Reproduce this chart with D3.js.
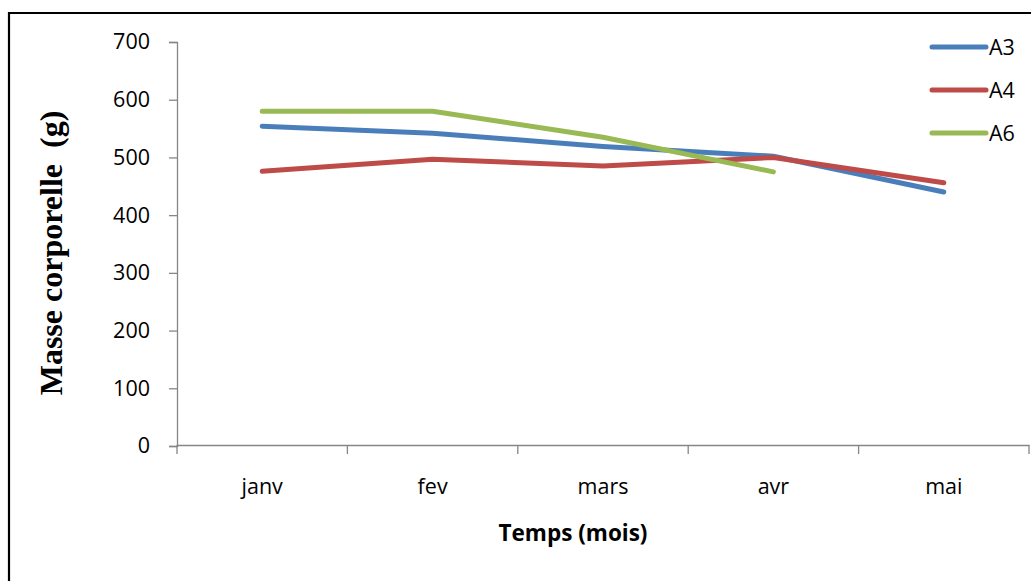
<!DOCTYPE html>
<html>
<head>
<meta charset="utf-8">
<script src="https://cdn.jsdelivr.net/npm/d3@7"></script>
<style>
  body { margin: 0; background: #fff; }
</style>
</head>
<body>
<div class="canvas"></div>
<script>
const months = ['janv', 'fev', 'mars', 'avr', 'mai'];
const a3 = [554, 542, 519, 502, 440];
const a4 = [476, 497, 485, 500, 456];
const a6 = [580, 580, 535, 475];
const yTicks = [0, 100, 200, 300, 400, 500, 600, 700];

const series = [
  { name: 'A3', values: a3, colour: '#4a7ebb' },
  { name: 'A4', values: a4, colour: '#be4b48' },
  { name: 'A6', values: a6, colour: '#98b954' }
];

const width = 1031, height = 581;
const plotLeft = 177, plotRight = 1029, plotTop = 42, plotBottom = 446;

const svg = d3.select('.canvas')
  .append('svg')
  .attr('width', width)
  .attr('height', height);

// frame (only top and left visible in the picture)
svg.append('path')
  .attr('d', `M9,${height} V13 H${width}`)
  .attr('fill', 'none')
  .attr('stroke', '#000')
  .attr('stroke-width', 2.2);

const x = d3.scaleBand().domain(months).range([plotLeft, plotRight]);
const y = d3.scaleLinear().domain([0, 700]).range([plotBottom, plotTop]);

// y axis
const yAxis = svg.append('g')
  .attr('transform', `translate(${plotLeft},0)`)
  .call(d3.axisLeft(y).tickValues(yTicks).tickSize(8).tickPadding(19));
yAxis.select('.domain').attr('stroke', '#868686').attr('stroke-width', 1.3);
yAxis.selectAll('.tick line').attr('stroke', '#868686').attr('stroke-width', 1.3);
yAxis.selectAll('text')
  .attr('font-family', '"Open Sans", sans-serif')
  .attr('font-size', 21.5)
  .attr('fill', '#000');

// x axis
const xAxis = svg.append('g')
  .attr('transform', `translate(0,${plotBottom - 1})`)
  .call(d3.axisBottom(x).tickSize(0).tickPadding(34));
xAxis.select('.domain').attr('stroke', '#868686').attr('stroke-width', 1.3);
xAxis.selectAll('text')
  .attr('font-family', '"Open Sans", sans-serif')
  .attr('font-size', 21.5)
  .attr('fill', '#000');
// tick marks at band boundaries
const bounds = months.map(m => x(m)).concat([x(months[months.length - 1]) + x.bandwidth()]);
svg.append('g').selectAll('line')
  .data(bounds)
  .join('line')
  .attr('x1', d => d).attr('x2', d => d)
  .attr('y1', plotBottom - 1).attr('y2', plotBottom + 8)
  .attr('stroke', '#868686').attr('stroke-width', 1.3);

// lines
const line = d3.line()
  .x((d, i) => x(months[i]) + x.bandwidth() / 2)
  .y(d => y(d));

svg.append('g').selectAll('path')
  .data(series)
  .join('path')
  .attr('fill', 'none')
  .attr('stroke', d => d.colour)
  .attr('stroke-width', 5)
  .attr('stroke-linecap', 'round')
  .attr('stroke-linejoin', 'round')
  .attr('d', d => line(d.values));

// legend
const legend = svg.append('g').selectAll('g')
  .data(series)
  .join('g')
  .attr('transform', (d, i) => `translate(932,${47 + i * 43})`);
legend.append('line')
  .attr('x1', 0).attr('x2', 54)
  .attr('stroke', d => d.colour)
  .attr('stroke-width', 5)
  .attr('stroke-linecap', 'round');
legend.append('text')
  .attr('x', 57)
  .attr('dy', '0.36em')
  .attr('font-family', '"Open Sans", sans-serif')
  .attr('font-size', 21.5)
  .text(d => d.name);

// axis titles
svg.append('text')
  .attr('x', 573).attr('y', 541)
  .attr('text-anchor', 'middle')
  .attr('font-family', '"Open Sans", sans-serif')
  .attr('font-weight', 'bold')
  .attr('font-size', 22.5)
  .text('Temps (mois)');

svg.append('text')
  .attr('transform', 'translate(62,253) rotate(-90)')
  .attr('text-anchor', 'middle')
  .attr('font-family', '"Liberation Serif", "Times New Roman", serif')
  .attr('font-weight', 'bold')
  .attr('font-size', 32)
  .attr('xml:space', 'preserve')
  .text('Masse corporelle  (g)');
</script>
</body>
</html>
